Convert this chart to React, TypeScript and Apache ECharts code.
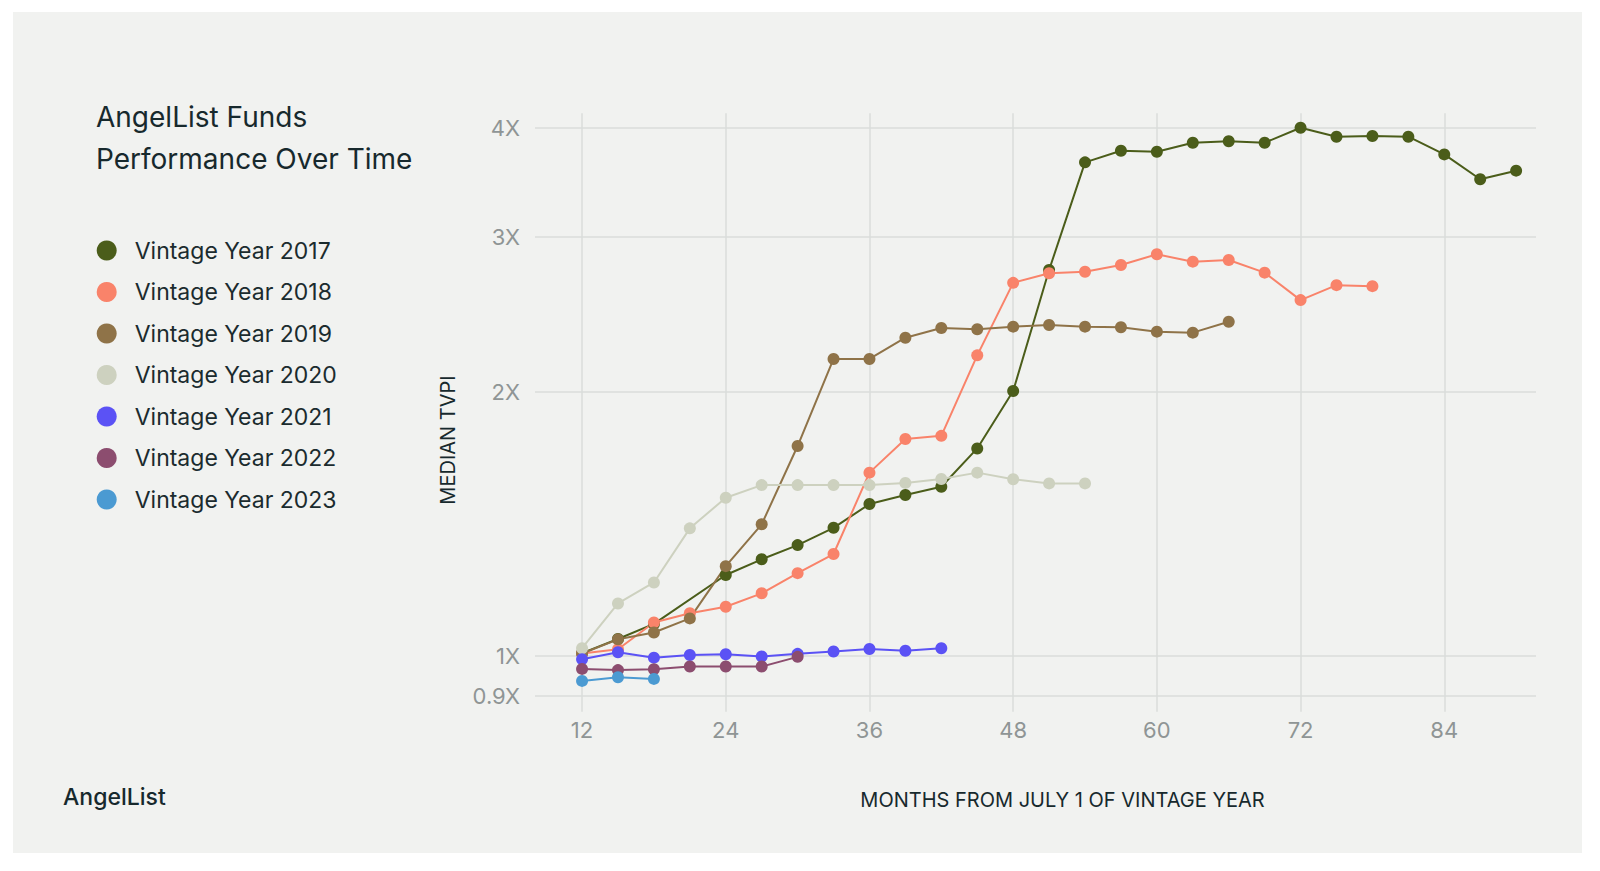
import { useEffect, useRef } from 'react'

import * as echarts from 'echarts'

// months since July 1 of the vintage year, one point every quarter
const months = [
  12, 15, 18, 21, 24, 27, 30, 33, 36, 39, 42, 45, 48, 51, 54, 57, 60, 63, 66, 69, 72, 75, 78, 81, 84, 87, 90,
]

const names = [
  'Vintage Year 2017',
  'Vintage Year 2018',
  'Vintage Year 2019',
  'Vintage Year 2020',
  'Vintage Year 2021',
  'Vintage Year 2022',
  'Vintage Year 2023',
]

const colors = ['#4b5d1a', '#f9836a', '#8f7348', '#cdd1bf', '#5b52f5', '#8c4d6f', '#4b9ad2']

// median TVPI (null = no reading for that quarter)
const tvpi2017 = [
  1.007, 1.045, 1.087, null, 1.236, 1.288, 1.337, 1.399, 1.489, 1.525, 1.558, 1.723, 2.003, 2.752, 3.651, 3.764,
  3.754, 3.844, 3.858, 3.844, 3.998, 3.905, 3.912, 3.905, 3.728, 3.492, 3.572,
]
const tvpi2018 = [
  1.006, 1.017, 1.091, 1.118, 1.137, 1.178, 1.242, 1.306, 1.617, 1.766, 1.781, 2.2, 2.661, 2.729, 2.74, 2.789,
  2.868, 2.813, 2.825, 2.733, 2.543, 2.645, 2.638,
]
const tvpi2019 = [
  1.006, 1.044, 1.063, 1.103, 1.265, 1.412, 1.734, 2.179, 2.179, 2.304, 2.364, 2.356, 2.372, 2.382, 2.372, 2.368,
  2.341, 2.335, 2.403,
]
const tvpi2020 = [1.02, 1.147, 1.212, 1.397, 1.514, 1.565, 1.565, 1.565, 1.565, 1.574, 1.59, 1.617, 1.589, 1.572, 1.572]
const tvpi2021 = [0.991, 1.009, 0.995, 1.002, 1.004, 0.998, 1.005, 1.011, 1.018, 1.013, 1.02]
const tvpi2022 = [0.966, 0.963, 0.965, 0.972, 0.972, 0.972, 0.997]
const tvpi2023 = [0.936, 0.945, 0.941]

const allSeries = [tvpi2017, tvpi2018, tvpi2019, tvpi2020, tvpi2021, tvpi2022, tvpi2023]

const xTicks = [12, 24, 36, 48, 60, 72, 84]
const yTicks = [0.9, 1, 2, 3, 4]

const FONT = 'Inter, "Noto Sans", sans-serif'

export default function App() {
  const main = useRef<HTMLDivElement>(null)

  useEffect(() => {
    const chart = echarts.init(main.current, null, { renderer: 'svg' })

    const series = allSeries.map((vals, i) => ({
      name: names[i],
      type: 'line',
      color: colors[i],
      data: vals.map((v, j) => [months[j], v == null ? null : Math.log10(v)]),
      connectNulls: true,
      symbol: 'circle',
      symbolSize: 12,
      showSymbol: true,
      lineStyle: { width: 2, color: colors[i] },
      itemStyle: { color: colors[i] },
      emphasis: { disabled: true },
    }))

    const option = {
      animation: false,
      backgroundColor: 'transparent',
      textStyle: { fontFamily: FONT },
      title: {
        text: 'AngelList Funds\nPerformance Over Time',
        left: 96,
        top: 96,
        padding: 0,
        textStyle: {
          fontFamily: FONT,
          fontSize: 28,
          lineHeight: 42,
          fontWeight: 400,
          color: '#17292d',
        },
      },
      legend: {
        orient: 'vertical',
        left: 96.7,
        top: 239,
        padding: 0,
        icon: 'circle',
        itemWidth: 20,
        itemHeight: 20,
        itemGap: 18.5,
        selectedMode: false,
        data: names,
        textStyle: {
          fontFamily: FONT,
          fontSize: 23,
          lineHeight: 20,
          color: '#1b2b2e',
          padding: [0, 0, 0, 13],
        },
      },
      grid: {
        left: 535,
        right: 64,
        top: 113.3,
        bottom: 159.3,
      },
      xAxis: {
        type: 'value',
        min: 8.07,
        max: 91.66,
        axisLine: { show: false },
        axisTick: { show: false, customValues: xTicks },
        axisLabel: {
          customValues: xTicks,
          fontFamily: FONT,
          fontSize: 22,
          color: '#8f9595',
          margin: 7,
        },
        splitLine: { show: true, lineStyle: { color: '#dadddb', width: 1.5 } },
      },
      yAxis: {
        type: 'value',
        min: -0.0638,
        max: 0.6183,
        axisLine: { show: false },
        axisTick: { show: false, customValues: yTicks.map((t) => Math.log10(t)) },
        axisLabel: {
          customValues: yTicks.map((t) => Math.log10(t)),
          formatter: (v: number) => `${parseFloat(Math.pow(10, v).toFixed(2))}X`,
          fontFamily: FONT,
          fontSize: 22,
          color: '#8f9595',
          margin: 15,
        },
        splitLine: { show: true, lineStyle: { color: '#dadddb', width: 1.5 } },
      },
      graphic: [
        {
          type: 'text',
          x: 1062.5,
          y: 800,
          style: {
            text: 'MONTHS FROM JULY 1 OF VINTAGE YEAR',
            font: `400 20px ${FONT}`,
            fill: '#17292d',
            align: 'center',
            verticalAlign: 'middle',
          },
        },
        {
          type: 'text',
          x: 448,
          y: 440,
          rotation: Math.PI / 2,
          style: {
            text: 'MEDIAN TVPI',
            font: `400 20px ${FONT}`,
            fill: '#17292d',
            align: 'center',
            verticalAlign: 'middle',
          },
        },
        {
          type: 'text',
          x: 63,
          y: 797,
          style: {
            text: 'AngelList',
            font: `500 23px ${FONT}`,
            fill: '#17292d',
            align: 'left',
            verticalAlign: 'middle',
          },
        },
      ],
      series,
    }

    chart.setOption(option)
    return () => {
      chart.dispose()
    }
  }, [])

  return (
    <div style={{ position: 'absolute', left: 0, top: 0, width: 1600, height: 871, background: '#fff' }}>
      <div
        style={{
          position: 'absolute',
          left: 12.7,
          top: 11.7,
          width: 1569.6,
          height: 841.6,
          background: '#f1f2f0',
        }}
      ></div>
      <div ref={main} style={{ position: 'absolute', left: 0, top: 0, width: 1600, height: 871 }}></div>
    </div>
  )
}
